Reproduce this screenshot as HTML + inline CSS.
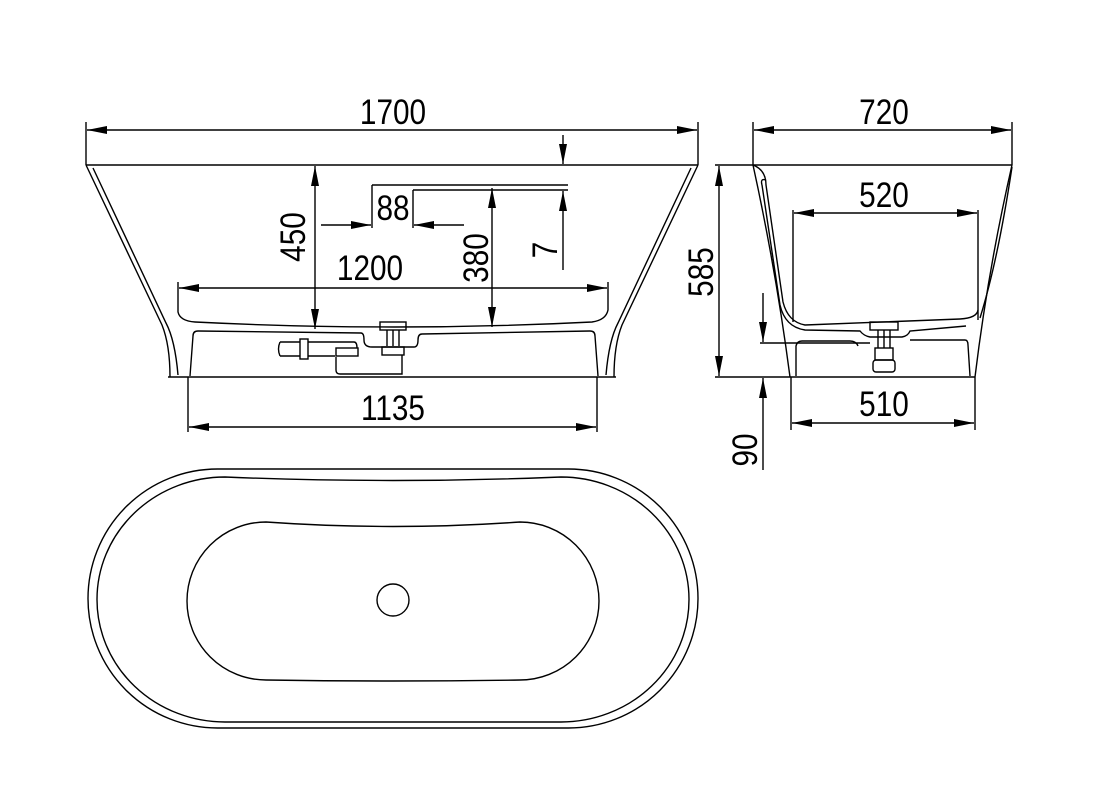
<!DOCTYPE html>
<html><head><meta charset="utf-8"><style>
html,body{margin:0;padding:0;background:#fff;}
svg{display:block;}
text{font-family:"Liberation Sans",sans-serif;font-size:35px;fill:#000;}
</style></head><body>
<svg width="1118" height="787" viewBox="0 0 1118 787" xmlns="http://www.w3.org/2000/svg">
<defs>
<marker id="a" viewBox="0 0 20 8" refX="20" refY="4" markerWidth="20" markerHeight="8" markerUnits="userSpaceOnUse" orient="auto-start-reverse"><path d="M0,0 L20,4 L0,8 z" fill="#000"/></marker>
</defs>
<g stroke="#000" stroke-width="1.4" fill="none">
<!-- FRONT VIEW -->
<line x1="86" y1="122" x2="86" y2="165"/><line x1="698" y1="122" x2="698" y2="165"/>
<line x1="87" y1="130" x2="697" y2="130" marker-start="url(#a)" marker-end="url(#a)"/>
<line x1="86" y1="165" x2="698" y2="165"/>
<path d="M86,165 L162,325 Q170,345 170,377"/>
<path d="M93,168 L166,323 Q175,340 178,375"/>
<path d="M698,165 L622,325 Q614,345 614,377"/>
<path d="M691,168 L618,323 Q609,340 606,375"/>
<line x1="168" y1="377" x2="616" y2="377"/>
<path d="M178,282 L178,312 Q180,321 195,322 Q395,332 592,322 Q606,320 608,310 L608,282"/>
<line x1="179" y1="288" x2="607" y2="288" marker-start="url(#a)" marker-end="url(#a)"/>
<line x1="315" y1="166" x2="315" y2="329" marker-start="url(#a)" marker-end="url(#a)"/>
<line x1="492" y1="188" x2="492" y2="327" marker-start="url(#a)" marker-end="url(#a)"/>
<line x1="372" y1="185" x2="568" y2="185"/>
<line x1="413" y1="190" x2="568" y2="190"/>
<line x1="372" y1="185" x2="372" y2="228"/>
<line x1="413" y1="190" x2="413" y2="228"/>
<line x1="321" y1="225" x2="371" y2="225" marker-end="url(#a)"/>
<line x1="464" y1="225" x2="414" y2="225" marker-end="url(#a)"/>
<line x1="563" y1="135" x2="563" y2="164" marker-end="url(#a)"/>
<line x1="563" y1="270" x2="563" y2="191" marker-end="url(#a)"/>
<path d="M190,376 L193,336 Q193,331 198,331 L361,333 Q364,333 364,340 Q364,347 372,347 L414,347 Q418,347 418,340 Q418,334 422,334 L590,331 Q595,331 595,336 L598,376"/>
<rect x="380" y="322" width="26" height="8"/>
<line x1="387" y1="330" x2="387" y2="346"/><line x1="393" y1="330" x2="393" y2="346"/><line x1="399" y1="330" x2="399" y2="346"/>
<rect x="382" y="347" width="22" height="8"/>
<path d="M336,357 L336,370 Q336,374 340,374 L402,374 L402,355"/>
<rect x="336" y="348" width="22" height="8"/>
<path d="M280,342 L300,342 M280,356 L300,356 M280,342 Q277,349 280,356"/>
<rect x="300" y="339" width="8" height="20"/>
<path d="M308,342 L354,342 Q357,342 357,348 M308,356 L335,356"/>
<line x1="188" y1="377" x2="188" y2="432"/><line x1="597" y1="377" x2="597" y2="432"/>
<line x1="189" y1="427" x2="596" y2="427" marker-start="url(#a)" marker-end="url(#a)"/>

<!-- SIDE VIEW -->
<line x1="753" y1="122" x2="753" y2="165"/><line x1="1012" y1="122" x2="1012" y2="165"/>
<line x1="754" y1="130" x2="1011" y2="130" marker-start="url(#a)" marker-end="url(#a)"/>
<line x1="753" y1="165" x2="1012" y2="165"/>
<path d="M753,165 Q776,270 790,377"/>
<path d="M1012,165 Q988,270 975,377"/>
<path d="M1012,167 Q998,260 980,318"/>
<path d="M753,165 Q766,170 766,185 L783,302 Q788,322 805,325 L960,319 Q977,318 978,310"/>
<path d="M762,185 L780,305 Q785,327 805,330 L860,331 Q864,336 870,337 L902,337 Q908,336 910,331 L966,326"/>
<path d="M762,185 Q760,178 766,180"/>
<line x1="793" y1="210" x2="793" y2="322"/><line x1="978" y1="210" x2="978" y2="320"/>
<line x1="794" y1="213" x2="977" y2="213" marker-start="url(#a)" marker-end="url(#a)"/>
<path d="M796,376 L796,346 Q797,341 802,341 L850,341 Q856,341 858,346 M910,340 L965,340 Q968,340 968,345 L970,376"/>
<rect x="870" y="322" width="28" height="8"/>
<line x1="878" y1="330" x2="878" y2="348"/><line x1="884" y1="330" x2="884" y2="348"/><line x1="890" y1="330" x2="890" y2="348"/>
<rect x="875" y="348" width="18" height="12"/>
<rect x="873" y="360" width="22" height="12" rx="3"/>
<line x1="715" y1="165" x2="753" y2="165"/>
<line x1="715" y1="377" x2="975" y2="377"/>
<line x1="719" y1="166" x2="719" y2="376" marker-start="url(#a)" marker-end="url(#a)"/>
<line x1="760" y1="343" x2="870" y2="343"/>
<line x1="763" y1="293" x2="763" y2="342" marker-end="url(#a)"/>
<line x1="763" y1="470" x2="763" y2="378" marker-end="url(#a)"/>
<line x1="791" y1="377" x2="791" y2="430"/><line x1="975" y1="377" x2="975" y2="430"/>
<line x1="792" y1="423" x2="974" y2="423" marker-start="url(#a)" marker-end="url(#a)"/>

<!-- TOP VIEW -->
<rect x="88" y="469" width="610" height="259" rx="129.5" ry="129.5"/>
<path d="M225,477 Q393,484 561,477 A128,122.5 0 0 1 561,722 L225,722 A128,122.5 0 0 1 225,477 Z"/>
<path d="M266,522 Q393,531 520,522 A79,79 0 0 1 520,680 Q393,682 266,680 A79,79 0 0 1 266,522 Z"/>
<circle cx="393" cy="600" r="16"/>
</g>
<g>
<text x="393" y="124" text-anchor="middle" transform="translate(393 0) scale(0.85 1) translate(-393 0)">1700</text>
<text x="393" y="220" text-anchor="middle" transform="translate(393 0) scale(0.85 1) translate(-393 0)">88</text>
<text x="370" y="280" text-anchor="middle" transform="translate(370 0) scale(0.85 1) translate(-370 0)">1200</text>
<text x="393" y="420" text-anchor="middle" transform="translate(393 0) scale(0.85 1) translate(-393 0)">1135</text>
<text transform="translate(305 237) rotate(-90) scale(0.85 1)" text-anchor="middle">450</text>
<text transform="translate(488 258) rotate(-90) scale(0.85 1)" text-anchor="middle">380</text>
<text transform="translate(557 250) rotate(-90) scale(0.85 1)" text-anchor="middle">7</text>
<text x="884" y="124" text-anchor="middle" transform="translate(884 0) scale(0.85 1) translate(-884 0)">720</text>
<text x="884" y="207" text-anchor="middle" transform="translate(884 0) scale(0.85 1) translate(-884 0)">520</text>
<text x="884" y="416" text-anchor="middle" transform="translate(884 0) scale(0.85 1) translate(-884 0)">510</text>
<text transform="translate(713 272) rotate(-90) scale(0.85 1)" text-anchor="middle">585</text>
<text transform="translate(757 450) rotate(-90) scale(0.85 1)" text-anchor="middle">90</text>
</g>
</svg>
</body></html>
